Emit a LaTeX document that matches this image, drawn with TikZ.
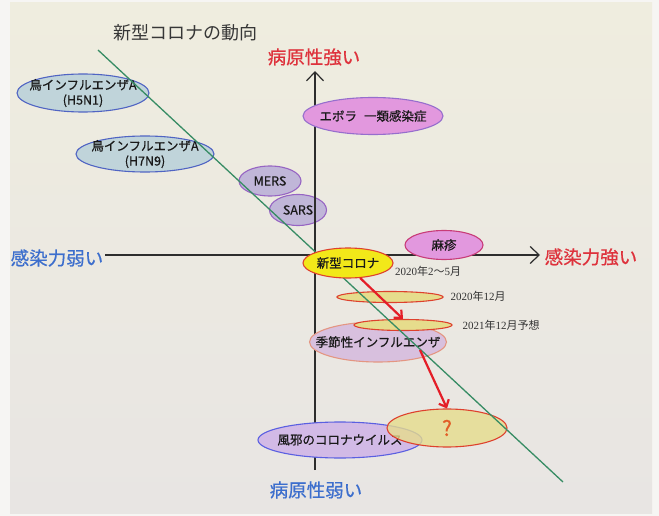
\documentclass[tikz,border=0pt]{standalone}
\usepackage{fontspec}
\newfontfamily\jp{Noto Sans CJK JP}
\newfontfamily\jpm[FakeBold=0.6]{Noto Sans CJK JP}
\newfontfamily\lser{Liberation Serif}
\usetikzlibrary{arrows.meta,shapes.geometric}
\definecolor{outerbg}{RGB}{246,245,243}
\definecolor{slidetop}{RGB}{239,237,223}
\definecolor{slidebot}{RGB}{232,229,227}
\definecolor{titlegray}{RGB}{55,55,55}
\definecolor{axisgray}{RGB}{45,45,45}
\definecolor{lblred}{RGB}{222,50,60}
\definecolor{lblblue}{RGB}{60,110,205}
\definecolor{bluefill}{RGB}{192,212,218}
\definecolor{blueline}{RGB}{80,100,195}
\definecolor{lavfill}{RGB}{192,182,216}
\definecolor{lavline}{RGB}{150,100,195}
\definecolor{pinkfill}{RGB}{226,152,222}
\definecolor{pinkline}{RGB}{150,110,205}
\definecolor{measline}{RGB}{200,60,120}
\definecolor{yelfill}{RGB}{242,232,25}
\definecolor{redline}{RGB}{222,65,45}
\definecolor{datefill}{RGB}{230,220,140}
\definecolor{seasfill}{RGB}{216,192,222}
\definecolor{seasline}{RGB}{228,150,130}
\definecolor{coldfill}{RGB}{210,186,230}
\definecolor{coldline}{RGB}{90,95,225}
\definecolor{qmark}{RGB}{225,95,40}
\definecolor{greenln}{RGB}{55,140,100}
\definecolor{arrred}{RGB}{228,30,40}
\begin{document}
\begin{tikzpicture}[x=1pt,y=-1pt,
  ell/.style={ellipse, draw, line width=1.1pt, inner sep=0pt},
  lbl/.style={inner sep=0pt, align=center, font=\jpm\fontsize{12.5}{15}\selectfont, text=black!90},
  axlabel/.style={font=\jpm\fontsize{18.5}{20}\selectfont, inner sep=0pt},
  axisline/.style={draw=axisgray, line width=1.2pt},
  redarrow/.style={draw=arrred, line width=2.2pt, -{Straight Barb[length=6pt,width=11pt]}},
  datelbl/.style={font=\lser\fontsize{11}{13}\selectfont, text=black!80, inner sep=0pt}
]
\useasboundingbox (0,0) rectangle (659,516);
\fill[outerbg] (0,0) rectangle (659,516);
\shade[top color=slidetop, bottom color=slidebot] (10,3) rectangle (652,513);

% title
\node[font=\jp\fontsize{18}{20}\selectfont, text=titlegray] (title) at (185,33) {新型コロナの動向};

% left-side ellipses
\node[ell, fill=bluefill, draw=blueline, minimum width=132pt, minimum height=38pt,
  label={[lbl]center:鳥インフルエンザA\\(H5N1)}] (h5n1) at (83,93) {};
\node[ell, fill=bluefill, draw=blueline, minimum width=138pt, minimum height=36pt,
  label={[lbl]center:鳥インフルエンザA\\(H7N9)}] (h7n9) at (145,154) {};
\node[ell, fill=lavfill, draw=lavline, minimum width=62pt, minimum height=30pt,
  label={[lbl]center:MERS}] (mers) at (270,181) {};
\node[ell, fill=lavfill, draw=lavline, minimum width=57pt, minimum height=31pt,
  label={[lbl]center:SARS}] (sars) at (298,210) {};

% axes
\coordinate (xl) at (105,255);
\coordinate (xr) at (540,255);
\coordinate (yt) at (315,71);
\coordinate (yb) at (315,470);
\draw[axisline, -{Straight Barb[length=9pt,width=17pt]}] (xl) -- (xr);
\draw[axisline, -{Straight Barb[length=9pt,width=17pt]}] (yb) -- (yt);

% axis labels
\node[axlabel, text=lblred] (pstrong) at (314,57) {病原性強い};
\node[axlabel, text=lblblue] (pweak) at (316,490) {病原性弱い};
\node[axlabel, text=lblblue] (iweak) at (57,258) {感染力弱い};
\node[axlabel, text=lblred] (istrong) at (591,257) {感染力強い};

% right-side ellipses
\node[ell, fill=pinkfill, draw=pinkline, minimum width=140pt, minimum height=37pt,
  label={[lbl]center:エボラ\hspace{7pt}一類感染症}] (ebola) at (373,116) {};
\node[ell, fill=pinkfill, draw=measline, minimum width=78pt, minimum height=29pt,
  label={[lbl]center:麻疹}] (measles) at (444,245) {};
\node[ell, fill=coldfill, draw=coldline, minimum width=164pt, minimum height=36pt,
  label={[lbl]center:風邪のコロナウイルス}] (cold) at (340,440) {};
\node[ell, fill=seasfill, draw=seasline, minimum width=137pt, minimum height=40pt,
  label={[lbl]center:季節性インフルエンザ}] (seas) at (378,342) {};

% trajectory ellipses
\node[ell, fill=datefill, draw=redline, minimum width=106pt, minimum height=11pt] (e2020) at (390,297) {};
\node[ell, fill=datefill, draw=redline, minimum width=98pt, minimum height=11pt] (e2021) at (403,325) {};
\node[ell, fill=datefill, fill opacity=0.8, draw=redline, minimum width=120pt, minimum height=38pt,
  label={[lbl, font=\jpm\fontsize{21}{22}\selectfont, text=qmark]center:?}] (q) at (447,428) {};

% green trend line
\coordinate (g1) at (98,50);
\coordinate (g2) at (563,482);
\draw[greenln, line width=1.3pt] (g1) -- (g2);

% current corona
\node[ell, fill=yelfill, draw=redline, minimum width=90pt, minimum height=30pt,
  label={[lbl]center:新型コロナ}] (corona) at (348,263) {};

% date labels
\node[datelbl] (d1) at (428,271) {2020\jp 年\lser 2\jp 〜\lser 5\jp 月};
\node[datelbl] (d2) at (478,296) {2020\jp 年\lser 12\jp 月};
\node[datelbl] (d3) at (501,325) {2021\jp 年\lser 12\jp 月予想};

% red arrows
\coordinate (a2s) at (420,350);
\draw[redarrow] (corona.-51) -- (e2021.north);
\draw[redarrow] (a2s) -- (q.north);
\end{tikzpicture}
\end{document}
